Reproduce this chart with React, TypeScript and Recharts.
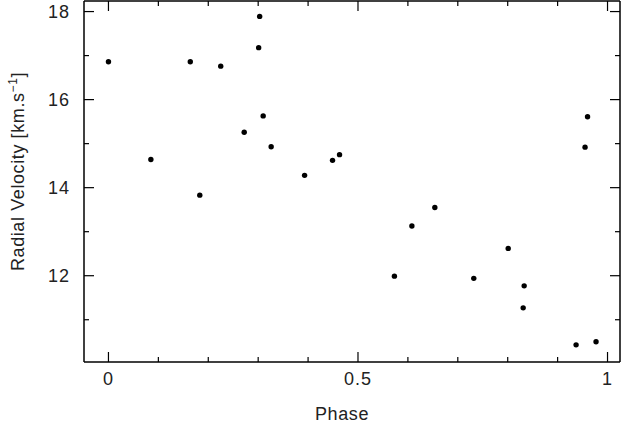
import React from 'react';
import { ScatterChart, Scatter, XAxis, YAxis } from 'recharts';

// phase / radial velocity (km/s)
const phase = [
  0.0, 0.085, 0.164, 0.183, 0.225, 0.272, 0.303, 0.301, 0.31, 0.326, 0.393, 0.449,
  0.463, 0.573, 0.608, 0.654, 0.732, 0.801, 0.833, 0.831, 0.937, 0.977, 0.955, 0.96,
];
const velocity = [
  16.86, 14.64, 16.86, 13.83, 16.76, 15.26, 17.89, 17.18, 15.63, 14.93, 14.28, 14.62,
  14.75, 11.99, 13.13, 13.55, 11.94, 12.62, 11.77, 11.27, 10.43, 10.5, 14.92, 15.61,
];

const xTicks = [0, 0.1, 0.2, 0.3, 0.4, 0.5, 0.6, 0.7, 0.8, 0.9, 1];
const xLabels: Record<number, string> = { 0: '0', 0.5: '0.5', 1: '1' };
const yTicks = [11, 12, 13, 14, 15, 16, 17, 18];
const yLabels: Record<number, string> = { 12: '12', 14: '14', 16: '16', 18: '18' };

const xDomain: [number, number] = [-0.049, 1.025];
const yDomain: [number, number] = [10.04, 18.24];

const data = phase.map((p, i) => ({ phase: p, v: velocity[i] }));

const FONT = '"Liberation Sans", Arial, sans-serif';
const INK = '#000';
const TEXT = '#222';
const FS = 18;

const BottomTick = (props: any) => {
  const { x, y, payload } = props;
  const label = xLabels[payload.value];
  const len = label !== undefined ? 10 : 5;
  return (
    <g>
      <line x1={x} y1={y} x2={x} y2={y - len} stroke={INK} strokeWidth={1.2} />
      {label !== undefined && (
        <text x={x} y={y + 23} textAnchor="middle" fontSize={FS} fontFamily={FONT} fill={TEXT} letterSpacing={1}>
          {label}
        </text>
      )}
    </g>
  );
};

const TopTick = (props: any) => {
  const { x, y, payload } = props;
  const len = xLabels[payload.value] !== undefined ? 10 : 5;
  return <line x1={x} y1={y} x2={x} y2={y + len} stroke={INK} strokeWidth={1.2} />;
};

const LeftTick = (props: any) => {
  const { x, y, payload } = props;
  const label = yLabels[payload.value];
  const len = label !== undefined ? 10 : 5;
  return (
    <g>
      <line x1={x} y1={y} x2={x + len} y2={y} stroke={INK} strokeWidth={1.2} />
      {label !== undefined && (
        <text x={x - 14} y={y + 6} textAnchor="end" fontSize={FS} fontFamily={FONT} fill={TEXT} letterSpacing={1}>
          {label}
        </text>
      )}
    </g>
  );
};

const RightTick = (props: any) => {
  const { x, y, payload } = props;
  const len = yLabels[payload.value] !== undefined ? 10 : 5;
  return <line x1={x} y1={y} x2={x - len} y2={y} stroke={INK} strokeWidth={1.2} />;
};

const YTitle = (props: any) => {
  const vb = props.viewBox;
  const cx = vb.x + 24;
  const cy = vb.y + vb.height / 2 - 10;
  return (
    <text
      x={cx}
      y={cy}
      transform={`rotate(-90 ${cx} ${cy})`}
      textAnchor="middle"
      fontSize={FS}
      fontFamily={FONT}
      fill={TEXT}
      letterSpacing={0.6}
    >
      Radial Velocity [km.s
      <tspan dy={-7} fontSize={12}>−1</tspan>
      <tspan dy={7}>]</tspan>
    </text>
  );
};

const XTitle = (props: any) => {
  const vb = props.viewBox;
  return (
    <text
      x={vb.x + vb.width / 2 - 10}
      y={vb.y + 58}
      textAnchor="middle"
      fontSize={FS}
      fontFamily={FONT}
      fill={TEXT}
      letterSpacing={0.6}
    >
      Phase
    </text>
  );
};

const Dot = (props: any) => <circle cx={props.cx} cy={props.cy} r={2.7} fill={INK} />;
const NoDot = () => <g />;

export default function App() {
  return (
    <div style={{ position: 'absolute', left: 0, top: 0, background: '#fff' }}>
      <ScatterChart width={622} height={424} margin={{ top: 0, right: 1, bottom: 0, left: 0 }}>
        <XAxis
          dataKey="phase"
          type="number"
          domain={xDomain}
          allowDataOverflow
          ticks={xTicks}
          interval={0}
          height={62}
          tickLine={false}
          tickSize={0}
          tickMargin={0}
          tick={<BottomTick />}
          axisLine={{ stroke: INK, strokeWidth: 1.5 }}
          label={XTitle}
        />
        <XAxis
          xAxisId="top"
          orientation="top"
          dataKey="phase"
          type="number"
          domain={xDomain}
          allowDataOverflow
          ticks={xTicks}
          interval={0}
          height={1}
          tickLine={false}
          tickSize={0}
          tickMargin={0}
          tick={<TopTick />}
          axisLine={{ stroke: INK, strokeWidth: 1.5 }}
        />
        <YAxis
          dataKey="v"
          type="number"
          domain={yDomain}
          allowDataOverflow
          ticks={yTicks}
          interval={0}
          width={84}
          tickLine={false}
          tickSize={0}
          tickMargin={0}
          tick={<LeftTick />}
          axisLine={{ stroke: INK, strokeWidth: 1.5 }}
          label={YTitle}
        />
        <YAxis
          yAxisId="right"
          orientation="right"
          dataKey="v"
          type="number"
          domain={yDomain}
          allowDataOverflow
          ticks={yTicks}
          interval={0}
          width={1}
          tickLine={false}
          tickSize={0}
          tickMargin={0}
          tick={<RightTick />}
          axisLine={{ stroke: INK, strokeWidth: 1.5 }}
        />
        <Scatter data={data} fill={INK} shape={Dot} isAnimationActive={false} />
        {/* ties the frame axes (top/right) to the data so they get drawn */}
        <Scatter
          data={data}
          xAxisId="top"
          yAxisId="right"
          shape={NoDot}
          legendType="none"
          isAnimationActive={false}
        />
      </ScatterChart>
    </div>
  );
}
